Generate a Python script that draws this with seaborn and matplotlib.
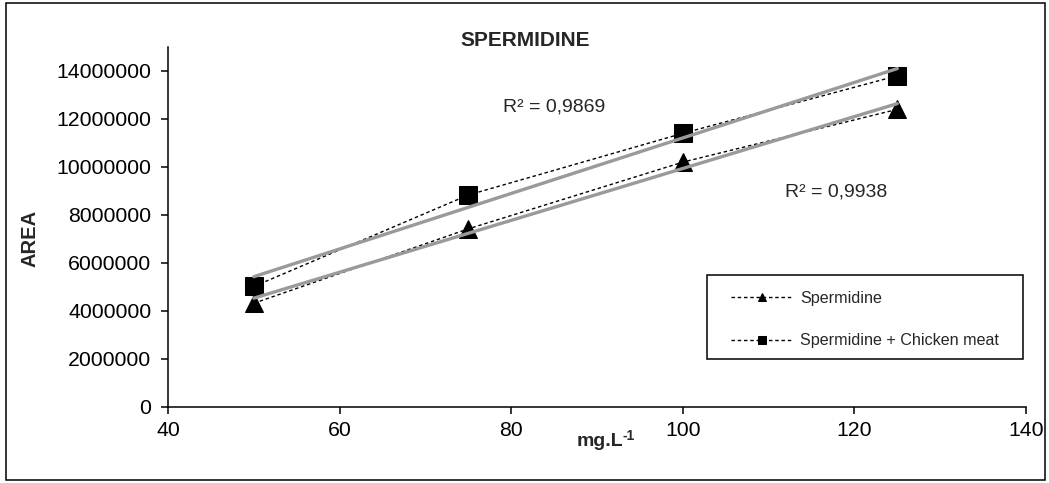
import matplotlib
matplotlib.use("Agg")
import matplotlib.pyplot as plt
import seaborn as sns
import pandas as pd
from matplotlib.ticker import FuncFormatter
from matplotlib.patches import Rectangle

# ---- data ----
conc = [50, 75, 100, 125]
spermidine = [4310000, 7410000, 10190000, 12390000]
spermidine_chicken = [5010000, 8820000, 11390000, 13790000]
series_labels = ["Spermidine", "Spermidine + Chicken meat"]
r2_labels = ["R² = 0,9938", "R² = 0,9869"]
x_ticks = [40, 60, 80, 100, 120, 140]
y_ticks = [0, 2000000, 4000000, 6000000, 8000000, 10000000, 12000000, 14000000]

sns.set_theme(style="white")
plt.rcParams['font.family'] = ['Liberation Sans', 'DejaVu Sans']

W, H = 1049, 483
fig = plt.figure(figsize=(W / 100, H / 100), dpi=100)
ax = fig.add_axes([168 / W, (H - 406.7) / H, (1026 - 168) / W, (406.7 - 46.7) / H])

df1 = pd.DataFrame({"x": conc, "y": spermidine})
df2 = pd.DataFrame({"x": conc, "y": spermidine_chicken})

dash_kw = dict(color="black", linewidth=1.0, dashes=(2.5, 2.0), markersize=13.5,
               markeredgecolor="black", markerfacecolor="black")
sns.lineplot(data=df1, x="x", y="y", ax=ax, marker="^", label=series_labels[0], zorder=3, **dash_kw)
sns.lineplot(data=df2, x="x", y="y", ax=ax, marker="s", label=series_labels[1], zorder=3, **dash_kw)

trend_kw = dict(scatter=False, ci=None, truncate=True, color="#9a9a9a",
                line_kws=dict(linewidth=2.4, zorder=4))
sns.regplot(data=df1, x="x", y="y", ax=ax, **trend_kw)
sns.regplot(data=df2, x="x", y="y", ax=ax, **trend_kw)

ax.set_xlim(40, 140)
ax.set_ylim(0, 15000000)
ax.set_xticks(x_ticks)
ax.set_yticks(y_ticks)
ax.yaxis.set_major_formatter(FuncFormatter(lambda v, p: f"{int(v)}"))
ax.xaxis.set_major_formatter(FuncFormatter(lambda v, p: f"{int(v)}"))
ax.set_xlabel("")
ax.set_ylabel("")

for s in ["top", "right"]:
    ax.spines[s].set_visible(False)
for s in ["left", "bottom"]:
    ax.spines[s].set_color("black")
    ax.spines[s].set_linewidth(1.1)
ax.tick_params(axis="both", which="major", direction="out", length=5, width=1.1,
               color="black", labelsize=15.3, labelcolor="black", pad=5,
               left=True, bottom=True)
ax.tick_params(axis="y", pad=7)
ax.grid(False)
ax.set_facecolor("white")

# labels
fig.text(460 / W, 1 - 40 / H, "SPERMIDINE", fontsize=15, fontweight="bold",
         ha="left", va="center")
fig.text(30 / W, 1 - 238 / H, "AREA", fontsize=14.5, fontweight="bold",
         rotation=90, ha="center", va="center")
xl = fig.text(577 / W, 1 - 442 / H, "mg.L", fontsize=14, fontweight="bold",
              ha="left", va="center")
fig.canvas.draw()
bb = xl.get_window_extent()
fig.text((bb.x1 - 1) / W, 1 - 436 / H, "-1", fontsize=10, fontweight="bold",
         ha="left", va="center")

# R^2 annotations
fig.text(503 / W, 1 - 107 / H, r2_labels[1], fontsize=14, ha="left", va="center")
fig.text(785 / W, 1 - 192 / H, r2_labels[0], fontsize=14, ha="left", va="center")

# legend (frame drawn separately, beneath legend entries)
leg = ax.legend(loc="center left", bbox_to_anchor=(731 / W, 1 - 319.5 / H),
                bbox_transform=fig.transFigure, borderaxespad=0, borderpad=0,
                frameon=False, fontsize=11.6,
                markerscale=0.42, handlelength=3.85, handletextpad=0.43,
                labelspacing=1.7)
leg.set_zorder(10)
ax.add_patch(Rectangle((707 / W, 1 - 359 / H), (1023 - 707) / W, (359 - 275) / H,
                       transform=fig.transFigure, facecolor="white", clip_on=False,
                       edgecolor="black", linewidth=1.1, zorder=9))

# outer chart border
fig.add_artist(Rectangle((6 / W, 3 / H), 1039 / W, 477 / H, transform=fig.transFigure,
                         fill=False, edgecolor="black", linewidth=1.1))

fig.savefig("out.png", dpi=100, facecolor="white")
